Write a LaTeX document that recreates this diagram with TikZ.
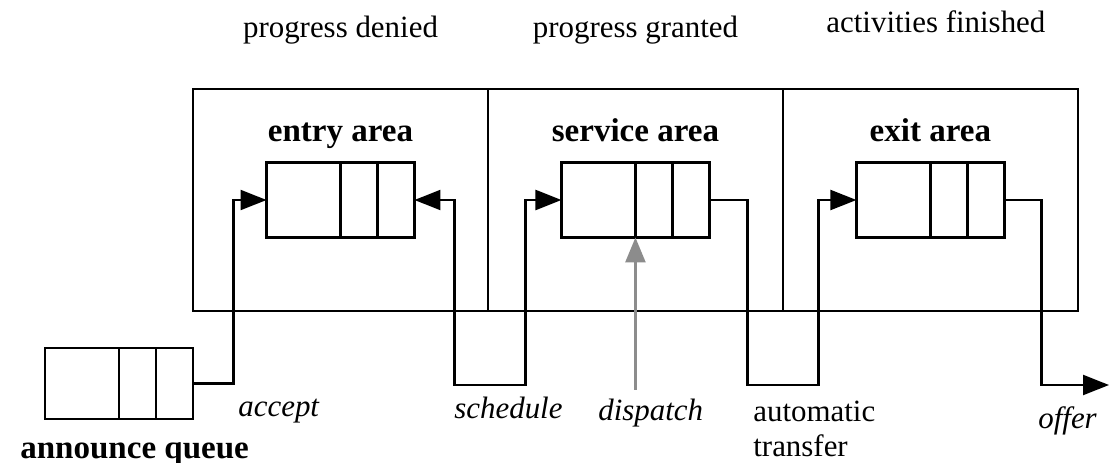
\documentclass[tikz,border=0pt]{standalone}
\usepackage{fontspec}
\setmainfont{Liberation Serif}
\usetikzlibrary{arrows.meta, positioning}
\definecolor{dspgray}{HTML}{8C8C8C}
\tikzset{
  area/.style  = {draw, line width=1.3pt, minimum width=5.9cm, minimum height=4.44cm,
                  inner sep=0pt, outer sep=0pt},
  queue/.style = {draw, line width=1.3pt, minimum width=2.96cm, minimum height=1.5cm,
                  inner sep=0pt, outer sep=0pt,
                  path picture={\draw[line width=1.3pt]
                    ([xshift=1.48cm]path picture bounding box.north west) --
                    ([xshift=1.48cm]path picture bounding box.south west)
                    ([xshift=2.22cm]path picture bounding box.north west) --
                    ([xshift=2.22cm]path picture bounding box.south west);}},
  ttl/.style   = {font=\fontsize{18.8pt}{20pt}\selectfont\bfseries, inner sep=0pt},
  note/.style  = {font=\fontsize{17.6pt}{19.6pt}\selectfont, inner sep=0pt, align=left},
  lab/.style   = {note, font=\fontsize{17.6pt}{19.6pt}\selectfont\itshape},
  flow/.style  = {-{Triangle[length=0.52cm, width=0.4cm]}, line width=1.3pt},
  flow2/.style = {{Triangle[length=0.52cm, width=0.4cm]}-{Triangle[length=0.52cm, width=0.4cm]},
                  line width=1.3pt},
  disp/.style  = {-{Triangle[length=0.5cm, width=0.4cm]}, draw=dspgray, line width=1.5pt}
}

\begin{document}
\begin{tikzpicture}[x=0.02cm, y=-0.02cm]
  \useasboundingbox (0,0) rectangle (1109,463);

  % the three areas side by side
  \node[area] (entry) at (340.5,200) {};
  \node[area, right=0pt of entry] (service) {};
  \node[area, right=0pt of service] (exit) {};

  \node[ttl, anchor=base] (entryttl) at ([yshift=-1.04cm]entry.north) {entry area};
  \node[ttl, anchor=base] (servttl) at ([yshift=-1.04cm]service.north) {service area};
  \node[ttl, anchor=base] (exitttl) at ([yshift=-1.04cm]exit.north) {exit area};

  \node[note, anchor=base] (denied) at ([yshift=1.04cm]entry.north) {progress denied};
  \node[note, anchor=base] (granted) at ([yshift=1.04cm]service.north) {progress granted};
  \node[note, anchor=base] (finished) at ([xshift=0.11cm, yshift=1.14cm]exit.north)
       {activities finished};

  % queues
  \node[queue] (entryq) at (entry.center) {};
  \node[queue] (servq) at (service.center) {};
  \node[queue] (exitq) at (exit.center) {};
  \node[queue, minimum height=1.42cm, anchor=north east] (annq)
       at ([yshift=-0.74cm]entry.south west) {};
  \node[ttl, anchor=base west] (annttl) at (20,458) {announce queue};

  \coordinate (outend) at (1109,385);
  \coordinate (dspend) at ([yshift=-3.05cm]servq.south);

  % connectors
  \draw[flow] (annq.east) -| ([xshift=-0.66cm]entryq.west) -- (entryq.west);
  \draw[flow2] (entryq.east) -- ++(40,0) -- ++(0,185)
       -| ([xshift=-0.72cm]servq.west) -- (servq.west);
  \draw[flow] (servq.east) -- ++(38,0) -- ++(0,185)
       -| ([xshift=-0.76cm]exitq.west) -- (exitq.west);
  \draw[flow] (exitq.east) -- ++(37,0) -- ++(0,185) -- (outend);
  \draw[disp] (dspend) -- (servq.south);

  % labels
  \node[lab, anchor=base west] (accept) at (238,416) {accept};
  \node[lab, anchor=base west] (sched) at (454,418) {schedule};
  \node[lab, anchor=base west] (dispatch) at (598,420) {dispatch};
  \node[note, anchor=north west] (transfer) at (753,401) {automatic\\transfer};
  \node[lab, anchor=base west] (offer) at (1038,428) {offer};
\end{tikzpicture}
\end{document}
